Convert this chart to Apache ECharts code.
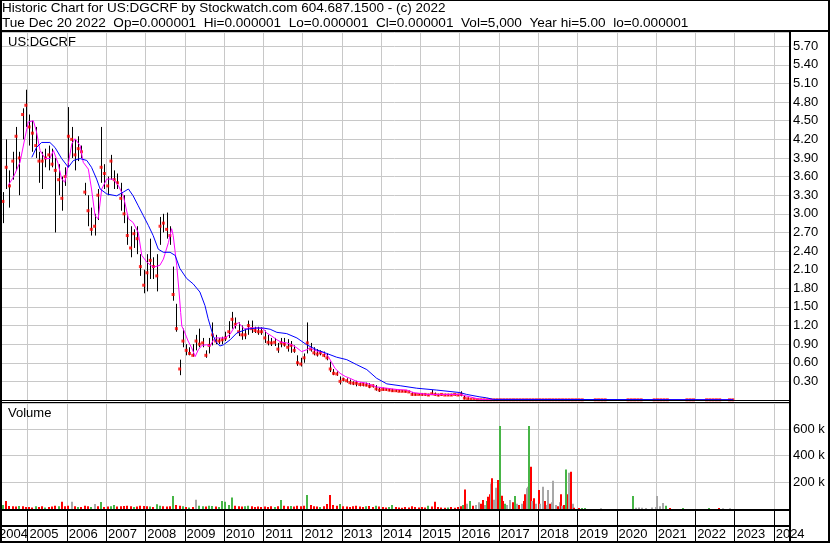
<!DOCTYPE html>
<html><head><meta charset="utf-8">
<script src="https://cdn.jsdelivr.net/npm/echarts/dist/echarts.min.js"></script>
<style>html,body{margin:0;padding:0;background:#fff;overflow:hidden}#c{width:830px;height:543px}</style>
</head><body><div id="c"></div><script>
// ---------------- DATA ----------------
const title1 = 'Historic Chart for US:DGCRF by Stockwatch.com 604.687.1500 - (c) 2022';
const title2Fields = ['Tue Dec 20 2022','Op=0.000001','Hi=0.000001','Lo=0.000001','Cl=0.000001','Vol=5,000','Year hi=5.00','lo=0.000001'];
const symbolLabel = 'US:DGCRF';
const volumeLabel = 'Volume';
const firstMonth = '2004-05';
const priceLabels = ['0.30','0.60','0.90','1.20','1.50','1.80','2.10','2.40','2.70','3.00','3.30','3.60','3.90','4.20','4.50','4.80','5.10','5.40','5.70'];
const volLabels = ['200 k','400 k','600 k'];
const yearLabels = ['2004','2005','2006','2007','2008','2009','2010','2011','2012','2013','2014','2015','2016','2017','2018','2019','2020','2021','2022','2023','2024'];

// monthly high / low (May 2004 - Mar 2016)
const high = [
3.35,4.20,3.70,4.00,4.40,4.00,4.70,5.00,
4.60,4.50,4.40,4.00,4.00,4.05,4.10,4.05,3.90,3.80,3.60,3.75,
4.72,4.40,4.20,4.25,4.10,3.50,3.30,3.10,3.00,3.40,4.40,3.80,
3.60,3.95,3.70,3.65,3.50,3.30,3.00,2.80,2.75,2.80,2.35,2.10,
2.35,2.60,2.30,2.35,2.95,3.00,3.02,2.80,2.15,1.55,0.65,1.15,
0.90,0.85,0.90,1.05,1.15,1.00,0.80,1.00,1.25,1.05,1.00,1.02,
1.10,1.27,1.42,1.33,1.25,1.20,1.15,1.28,1.28,1.18,1.18,1.17,
1.12,1.05,1.00,1.00,0.92,1.00,1.00,0.98,0.95,0.88,0.72,0.68,
0.75,1.25,0.92,0.85,0.82,0.80,0.78,0.75,0.62,0.50,0.46,0.38,
0.36,0.35,0.33,0.30,0.31,0.28,0.28,0.28,0.27,0.25,0.24,0.20,
0.20,0.19,0.19,0.18,0.17,0.16,0.16,0.15,0.15,0.13,0.11,0.11,
0.11,0.10,0.10,0.16,0.12,0.10,0.10,0.10,0.10,0.10,0.10,0.10,
0.14,0.08,0.04];
const low = [
2.85,3.40,3.10,3.55,3.70,3.30,4.20,4.40,
4.10,4.00,3.90,3.50,3.40,3.75,3.70,3.75,2.70,3.30,3.05,3.45,
3.75,3.90,3.70,3.85,3.90,3.30,2.80,2.65,2.65,2.90,3.50,3.40,
3.30,3.55,3.40,3.40,3.05,2.85,2.50,2.30,2.45,2.35,2.00,1.72,
1.75,1.95,1.95,1.75,2.50,2.70,2.60,2.50,1.60,1.10,0.40,0.85,
0.72,0.72,0.70,0.80,0.85,0.85,0.68,0.75,0.88,0.90,0.90,0.90,
0.95,1.00,1.15,1.15,1.03,0.97,0.98,1.05,1.08,1.08,1.05,1.05,
0.92,0.88,0.87,0.87,0.76,0.85,0.86,0.78,0.76,0.76,0.55,0.54,
0.60,0.75,0.78,0.72,0.70,0.72,0.69,0.64,0.45,0.40,0.39,0.25,
0.30,0.28,0.25,0.24,0.22,0.22,0.22,0.22,0.19,0.20,0.15,0.13,
0.15,0.15,0.14,0.13,0.13,0.13,0.13,0.12,0.12,0.07,0.07,0.08,
0.07,0.07,0.07,0.08,0.07,0.06,0.07,0.07,0.07,0.07,0.07,0.07,
0.06,0.01,0.01];
// monthly close (May 2004 - Dec 2022), null = no trade
const close = [
3.20,3.75,3.45,3.85,4.25,3.90,4.60,4.75,
4.40,4.30,4.10,3.85,3.85,3.90,3.95,3.80,3.70,3.55,3.25,3.60,
4.25,4.20,3.95,4.05,4.00,3.35,3.05,2.75,2.80,3.30,3.75,3.65,
3.45,3.85,3.55,3.50,3.25,3.00,2.65,2.45,2.68,2.60,2.15,1.85,
2.05,2.25,2.15,2.00,2.80,2.85,2.75,2.65,1.70,1.15,0.50,0.95,
0.80,0.75,0.72,0.95,0.90,0.92,0.72,0.88,1.05,0.95,0.95,0.97,
1.00,1.10,1.30,1.22,1.10,1.05,1.05,1.20,1.15,1.12,1.10,1.10,
1.00,0.93,0.92,0.93,0.82,0.92,0.90,0.85,0.88,0.80,0.60,0.58,
0.68,0.92,0.82,0.76,0.74,0.76,0.72,0.68,0.50,0.43,0.42,0.30,
0.33,0.31,0.28,0.27,0.27,0.25,0.25,0.24,0.22,0.23,0.18,0.16,
0.17,0.17,0.16,0.15,0.15,0.14,0.14,0.14,0.13,0.09,0.09,0.09,
0.09,0.09,0.08,0.10,0.09,0.08,0.09,0.08,0.08,0.08,0.09,0.08,
0.09,0.03,0.02,0.01,0.008,0.005,0.004,0.003,0.003,0.003,0.003,0.003,
0.003,0.003,0.003,0.003,0.003,0.003,0.003,0.003,0.003,0.003,0.003,0.003,
0.003,0.003,0.003,0.003,0.003,0.003,0.003,0.003,0.003,0.003,0.003,0.003,
0.003,0.003,null,null,null,0.003,0.003,0.003,0.003,null,null,null,
null,null,null,0.003,0.003,0.003,0.003,0.003,null,null,null,0.003,
0.003,0.003,0.003,0.003,null,null,null,null,null,0.003,0.003,0.003,
null,null,null,0.003,0.003,0.003,0.003,0.003,null,null,0.003,0.003];

// short moving average (magenta), read at decimal-year positions
const maShortT = [2004.51,2004.64,2004.81,2004.94,2005.02,2005.15,2005.23,2005.32,2005.45,2005.57,2005.66,2005.78,2005.87,2005.95,2006.04,2006.13,2006.21,2006.34,2006.42,2006.55,2006.63,2006.72,2006.80,2006.89,2007.02,2007.18,2007.31,2007.44,2007.57,2007.69,2007.82,2007.91,2008.04,2008.20,2008.37,2008.46,2008.59,2008.67,2008.71,2008.80,2008.86,2008.90,2008.93,2008.99,2009.04,2009.09,2009.18,2009.27,2009.35,2009.44,2009.56,2009.65,2009.72,2009.77,2009.90,2010.03,2010.16,2010.28,2010.37,2010.45,2010.54,2010.62,2010.75,2010.88,2011.00,2011.09,2011.22,2011.35,2011.47,2011.60,2011.73,2011.86,2011.98,2012.11,2012.19,2012.28,2012.41,2012.53,2012.66,2012.75,2012.83,2012.96,2013.09,2013.21,2013.38,2013.64,2013.89,2014.15,2014.40,2014.66,2014.82,2015.17,2015.59,2016.01,2016.27,2016.52,2016.75,2022.97];
const maShortV = [3.46,3.59,3.83,4.24,4.48,4.50,4.32,4.02,3.89,3.89,4.02,3.81,3.56,3.51,3.81,4.13,4.21,4.10,3.83,3.72,3.40,2.97,2.92,3.40,3.56,3.56,3.46,3.29,2.92,2.86,2.70,2.33,2.22,2.14,2.17,2.27,2.54,2.76,2.65,2.17,1.74,1.41,1.19,1.11,1.03,0.95,0.84,0.70,0.81,0.88,0.89,0.87,0.95,1.00,1.00,1.00,1.06,1.19,1.25,1.19,1.14,1.16,1.16,1.16,1.15,1.08,1.03,0.97,0.93,0.92,0.89,0.84,0.78,0.81,0.84,0.81,0.78,0.77,0.70,0.60,0.51,0.43,0.38,0.35,0.30,0.27,0.21,0.19,0.17,0.16,0.12,0.09,0.09,0.09,0.05,0.01,0.004,0.003];
// long moving average (blue)
const maLongT = [2005.11,2005.23,2005.36,2005.57,2005.70,2005.87,2006.04,2006.17,2006.34,2006.51,2006.63,2006.76,2006.85,2007.02,2007.27,2007.44,2007.57,2007.69,2007.82,2007.95,2008.08,2008.20,2008.33,2008.46,2008.63,2008.76,2008.88,2009.05,2009.22,2009.39,2009.52,2009.60,2009.73,2009.82,2009.90,2009.99,2010.16,2010.33,2010.58,2010.84,2011.00,2011.18,2011.35,2011.60,2011.86,2012.11,2012.36,2012.62,2012.87,2013.13,2013.38,2013.64,2013.89,2014.15,2014.49,2014.91,2015.42,2016.01,2016.18,2016.52,2016.69,2016.86,2022.97];
const maLongV = [3.91,4.07,4.15,4.15,4.07,3.89,3.75,3.86,3.89,3.86,3.75,3.56,3.40,3.32,3.29,3.35,3.40,3.29,3.13,2.97,2.81,2.65,2.43,2.38,2.38,2.33,2.12,1.96,1.87,1.74,1.52,1.31,1.03,0.92,0.87,0.89,0.97,1.08,1.14,1.16,1.16,1.14,1.09,1.07,1.00,0.89,0.81,0.75,0.69,0.65,0.57,0.49,0.35,0.26,0.23,0.19,0.16,0.12,0.09,0.05,0.035,0.01,0.005];

// monthly volume in thousands (May 2004 - Dec 2015); colour r=down g=up n=unchanged
const volMonthlyK = [
30,60,22,20,18,22,20,15,
15,12,20,15,20,12,15,18,25,20,55,20,
25,55,20,15,15,25,20,15,37,20,52,15,
18,20,30,18,20,22,25,20,15,18,25,22,
20,18,15,35,25,20,18,20,97,30,25,20,
15,12,15,70,25,20,18,25,22,18,15,60,
55,30,87,25,20,18,20,25,20,15,18,15,
18,15,20,15,20,67,25,20,22,18,25,20,
25,105,30,20,18,15,20,37,105,30,25,37,
20,18,15,20,25,18,15,20,22,15,25,18,
15,12,15,30,15,12,10,15,12,20,15,12,
15,12,25,18,55,15,12,10,12,15,10,15];
const volMonthlyC = 'grrrrgrr'+'rrgrrgrrrgrr'+'rnrgrrrgnrgr'+'rggrrrrrgrrr'+'rgrggrrrgrrg'+'rgrnggrggrgg'+'gggrrrggrrrr'+'rrrgrgrrgrrr'+'rgrrrgrrrrrg'+'rrrrrrrgrrgr'+'rrggrrrrrrrr'+'rrgrrrrrgrrr';
// later volume bars (decimal year, thousands, colour)
const volLateT = [2016.05,2016.10,2016.14,2016.20,2016.28,2016.35,2016.42,2016.50,2016.56,2016.60,2016.65,2016.70,2016.73,2016.77,2016.80,2016.84,2016.88,2016.94,2016.97,
2017.04,2017.08,2017.12,2017.17,2017.22,2017.28,2017.35,2017.41,2017.47,2017.52,2017.58,2017.63,2017.68,2017.72,2017.75,2017.78,2017.81,2017.85,2017.90,2017.95,
2018.02,2018.06,2018.12,2018.17,2018.22,2018.25,2018.30,2018.35,2018.39,2018.45,2018.50,2018.55,2018.58,2018.62,2018.67,2018.72,2018.76,2018.80,2018.84,2018.88,2018.92,
2019.05,2019.12,2019.20,2019.60,2020.41,2020.50,2020.58,2020.65,2020.75,2020.90,
2021.00,2021.04,2021.10,2021.17,2021.25,2021.35,2021.70,2022.35,2022.60,2022.70,2022.90];
const volLateK = [20,30,147,40,60,25,30,50,40,67,30,60,92,110,192,230,70,160,218,
622,100,60,40,30,67,50,97,40,30,40,60,110,155,167,622,317,60,80,40,
142,40,167,60,30,142,40,50,212,30,20,50,110,25,30,297,110,272,280,40,10,
8,8,8,5,97,10,12,10,8,12,
15,97,20,45,25,8,8,8,8,5,6];
const volLateC = 'rgrngrnnrrngrrnrnnr'+'grrgnnrgnrnrrnngrnrn'+'rnnrnnrnnnrnrnrgrnrnr'+'rggn'+'gnnnnn'+'nnnngrg'+'grnn';

// ---------------- BUILD ----------------
const X_MIN = 2004.30, X_MAX = 2024.39;
const FONT = 'Arial, "Liberation Sans", sans-serif';
const volColor = {r:'#ff0000', g:'#47b547', n:'#a8a8a8'};
const [fy, fm] = firstMonth.split('-').map(Number);
const monthT = i => { const k = (fm - 1) + i; return fy + Math.floor(k / 12) + ((k % 12) + 0.5) / 12; };

const hlData = high.map((h, i) => [monthT(i), h, low[i]]);
const closeData = [];
close.forEach((c, i) => { if (c !== null) closeData.push([monthT(i), c]); });
const maShort = maShortT.map((t, i) => [t, maShortV[i]]);
const maLong = maLongT.map((t, i) => [t, maLongV[i]]);
const volData = [], volCols = [];
volMonthlyK.forEach((v, i) => { volData.push([monthT(i), v * 1000]); volCols.push(volMonthlyC[i]); });
volLateT.forEach((t, i) => { volData.push([t, volLateK[i] * 1000]); volCols.push(volLateC[i]); });
const yearNums = yearLabels.map(Number);
const yearLines = yearNums.filter(y => y > X_MIN).map(y => [y, 0]);

function vGrid(color) {
  return function (params, api) {
    const x = Math.round(api.coord([api.value(0), 0])[0]) + 0.5;
    const cs = params.coordSys;
    return {type: 'line', shape: {x1: x, y1: cs.y, x2: x, y2: cs.y + cs.height}, style: {stroke: color, lineWidth: 1}};
  };
}

const chart = echarts.init(document.getElementById('c'), null, {renderer: 'canvas'});
const axisLabelBase = {color: '#000', fontSize: 13, fontFamily: FONT, margin: 4};
chart.setOption({
  animation: false,
  backgroundColor: '#fff',
  grid: [
    {left: 0, right: 41, top: 32, height: 368, outerBoundsMode: 'none'},
    {left: 0, right: 41, top: 403, height: 106, outerBoundsMode: 'none'},
    {left: 0, right: 41, top: 510, height: 31, outerBoundsMode: 'none'}
  ],
  xAxis: [0, 1, 2].map(i => ({gridIndex: i, type: 'value', min: X_MIN, max: X_MAX, show: false})),
  yAxis: [
    {gridIndex: 0, type: 'value', position: 'right', min: 0, max: 5.93, interval: 0.3,
     axisLine: {show: false}, axisTick: {show: false},
     axisLabel: Object.assign({}, axisLabelBase, {formatter: v => { const s = v.toFixed(2); return priceLabels.includes(s) ? s : ''; }}),
     splitLine: {show: true, lineStyle: {color: '#c8c8c8', width: 1}}},
    {gridIndex: 1, type: 'value', position: 'right', min: 0, max: 795000, interval: 200000,
     axisLine: {show: false}, axisTick: {show: false},
     axisLabel: Object.assign({}, axisLabelBase, {formatter: v => { const s = Math.round(v / 1000) + ' k'; return volLabels.includes(s) ? s : ''; }}),
     splitLine: {show: true, lineStyle: {color: '#c8c8c8', width: 1}}},
    {gridIndex: 2, type: 'value', min: 0, max: 1, show: false}
  ],
  series: [
    {type: 'custom', name: 'pgrid', xAxisIndex: 0, yAxisIndex: 0, data: yearLines, renderItem: vGrid('#c8c8c8'), z: 1, silent: true},
    {type: 'custom', name: 'vgrid', xAxisIndex: 1, yAxisIndex: 1, data: yearLines, renderItem: vGrid('#c8c8c8'), z: 1, silent: true},
    {type: 'custom', name: 'bgrid', xAxisIndex: 2, yAxisIndex: 2, data: yearLines, renderItem: vGrid('#000'), z: 1, silent: true},
    {type: 'custom', name: 'years', xAxisIndex: 2, yAxisIndex: 2, data: yearNums.map(y => [y, 0]), silent: true, z: 3,
     renderItem: (params, api) => {
       const px = api.coord([api.value(0), 0])[0];
       const cs = params.coordSys;
       return {type: 'text', x: Math.max(px, -3) + 2, y: cs.y + cs.height - 7,
         style: {text: yearLabels[params.dataIndex], font: '13px ' + FONT, fill: '#000', verticalAlign: 'middle', textVerticalAlign: 'middle'}};
     }},
    {type: 'custom', name: 'hl', xAxisIndex: 0, yAxisIndex: 0, data: hlData, z: 2, silent: true,
     renderItem: (params, api) => {
       const p1 = api.coord([api.value(0), api.value(1)]);
       const p2 = api.coord([api.value(0), api.value(2)]);
       const x = Math.round(p1[0]) + 0.5;
       return {type: 'line', shape: {x1: x, y1: p1[1], x2: x, y2: p2[1]}, style: {stroke: '#000', lineWidth: 1}};
     }},
    {type: 'scatter', name: 'close', xAxisIndex: 0, yAxisIndex: 0, data: closeData, symbol: 'rect', symbolSize: [3, 3],
     itemStyle: {color: '#ff0000'}, z: 3, silent: true},
    {type: 'line', name: 'maShort', xAxisIndex: 0, yAxisIndex: 0, data: maShort, showSymbol: false, z: 4, silent: true,
     lineStyle: {color: '#ff00ff', width: 1}},
    {type: 'line', name: 'maLong', xAxisIndex: 0, yAxisIndex: 0, data: maLong, showSymbol: false, z: 5, silent: true,
     lineStyle: {color: '#0000ff', width: 1}},
    {type: 'custom', name: 'volume', xAxisIndex: 1, yAxisIndex: 1, data: volData, z: 3, silent: true,
     renderItem: (params, api) => {
       const p0 = api.coord([api.value(0), 0]);
       const p1 = api.coord([api.value(0), api.value(1)]);
       const x = Math.round(p0[0]) - 1;
       return {type: 'rect', shape: {x: x, y: p1[1], width: 2, height: p0[1] - p1[1]}, style: {fill: volColor[volCols[params.dataIndex]]}};
     }}
  ],
  graphic: [
    {type: 'text', x: 2, y: 8, z: 100, style: {text: title1, font: '13.5px ' + FONT, fill: '#000', verticalAlign: 'middle', textVerticalAlign: 'middle'}},
    {type: 'text', x: 2, y: 23, z: 100, style: {text: title2Fields.join('  '), font: '13.6px ' + FONT, fill: '#000', verticalAlign: 'middle', textVerticalAlign: 'middle'}},
    {type: 'text', x: 8, y: 42, z: 100, style: {text: symbolLabel, font: '13px ' + FONT, fill: '#000', verticalAlign: 'middle', textVerticalAlign: 'middle'}},
    {type: 'text', x: 8, y: 413, z: 100, style: {text: volumeLabel, font: '13px ' + FONT, fill: '#000', verticalAlign: 'middle', textVerticalAlign: 'middle'}},
    {type: 'rect', z: 100, shape: {x: 0, y: 0, width: 830, height: 1}, style: {fill: '#000'}},
    {type: 'rect', z: 100, shape: {x: 0, y: 0, width: 2, height: 543}, style: {fill: '#000'}},
    {type: 'rect', z: 100, shape: {x: 828, y: 0, width: 2, height: 543}, style: {fill: '#000'}},
    {type: 'rect', z: 100, shape: {x: 0, y: 541, width: 830, height: 2}, style: {fill: '#000'}},
    {type: 'rect', z: 100, shape: {x: 0, y: 30, width: 830, height: 2}, style: {fill: '#000'}},
    {type: 'rect', z: 100, shape: {x: 789, y: 30, width: 2, height: 513}, style: {fill: '#000'}},
    {type: 'rect', z: 100, shape: {x: 0, y: 400, width: 789, height: 1}, style: {fill: '#000'}},
    {type: 'rect', z: 100, shape: {x: 0, y: 402, width: 789, height: 1}, style: {fill: '#000'}},
    {type: 'rect', z: 100, shape: {x: 0, y: 509, width: 789, height: 2}, style: {fill: '#000'}},
    {type: 'rect', z: 100, shape: {x: 0, y: 525, width: 789, height: 2}, style: {fill: '#000'}}
  ]
});
</script></body></html>
